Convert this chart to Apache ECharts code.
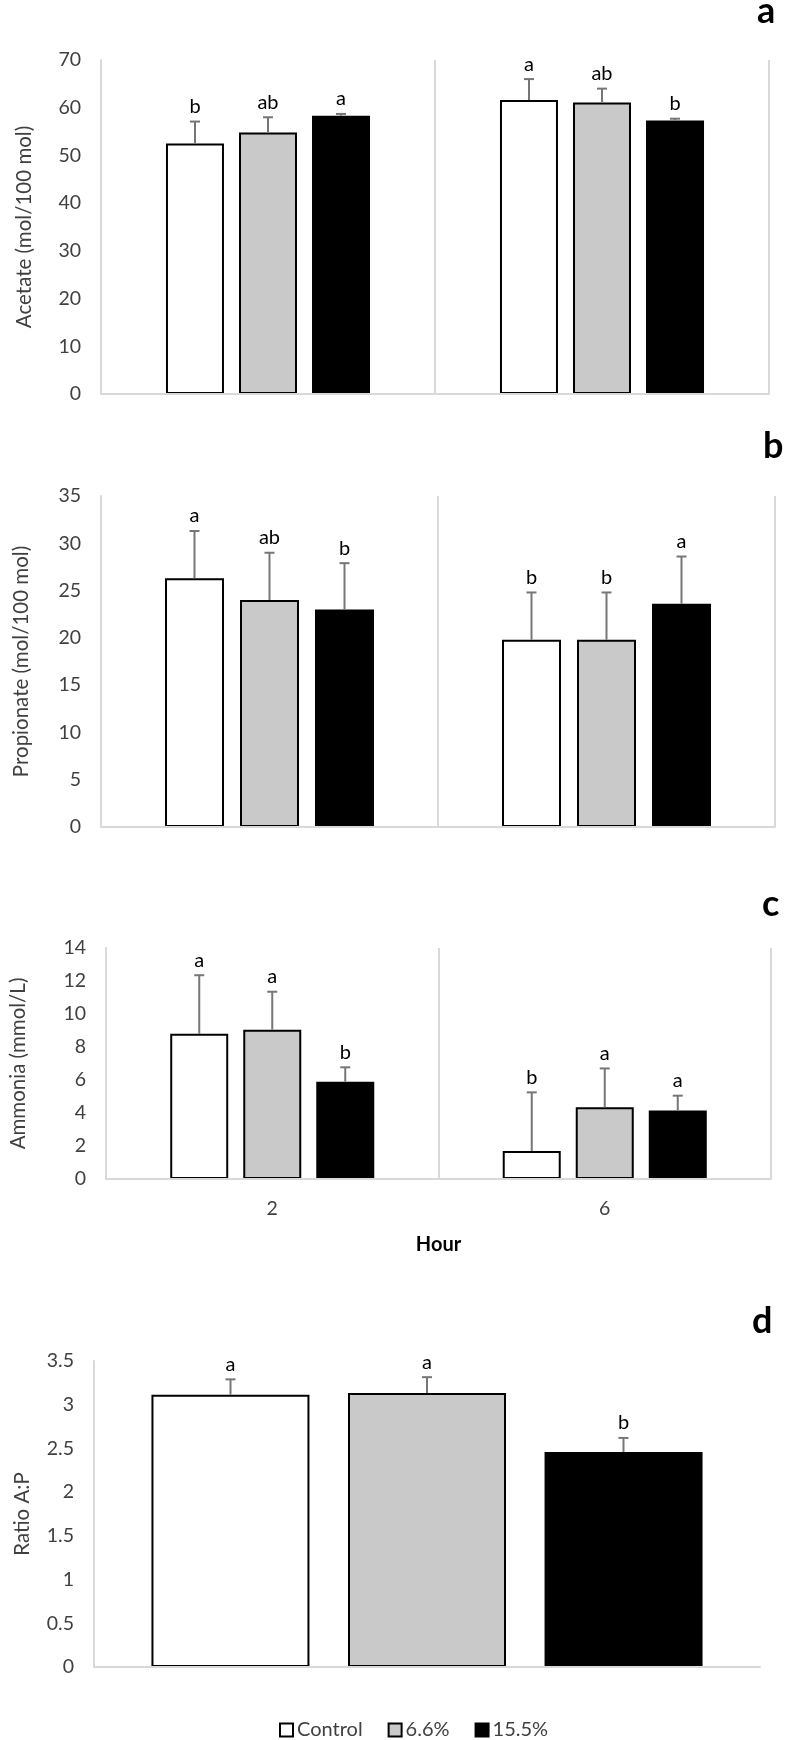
<!DOCTYPE html>
<html>
<head>
<meta charset="utf-8">
<script src="https://cdn.jsdelivr.net/npm/echarts@6/dist/echarts.min.js"></script>
<style>
html,body{margin:0;padding:0;background:#fff;}
#chart{width:785px;height:1740px;}
</style>
</head>
<body>
<div id="chart"></div>
<script>
// ---------- DATA ----------
const hours = ['2', '6'];
const seriesNames = ['Control', '6.6%', '15.5%'];

// Panel a: Acetate (mol/100 mol)
const acetateControl = [52.5, 61.6];
const acetate66 = [54.8, 61.1];
const acetate155 = [58.3, 57.3];
const acetateErrControl = [4.6, 4.4];
const acetateErr66 = [3.2, 2.9];
const acetateErr155 = [0.4, 0.4];
const acetateLetControl = ['b', 'a'];
const acetateLet66 = ['ab', 'ab'];
const acetateLet155 = ['a', 'b'];

// Panel b: Propionate (mol/100 mol)
const propControl = [26.3, 19.8];
const prop66 = [24.0, 19.8];
const prop155 = [23.0, 23.6];
const propErrControl = [5.0, 5.0];
const propErr66 = [5.0, 5.0];
const propErr155 = [4.9, 5.0];
const propLetControl = ['a', 'b'];
const propLet66 = ['ab', 'b'];
const propLet155 = ['b', 'a'];

// Panel c: Ammonia (mmol/L)
const ammControl = [8.8, 1.7];
const amm66 = [9.05, 4.35];
const amm155 = [5.9, 4.15];
const ammErrControl = [3.55, 3.55];
const ammErr66 = [2.3, 2.35];
const ammErr155 = [0.87, 0.9];
const ammLetControl = ['a', 'b'];
const ammLet66 = ['a', 'a'];
const ammLet155 = ['b', 'a'];

// Panel d: Ratio A:P
const ratioCategory = [''];
const ratioControl = [3.115];
const ratio66 = [3.135];
const ratio155 = [2.46];
const ratioErrControl = [0.175];
const ratioErr66 = [0.18];
const ratioErr155 = [0.16];
const ratioLetControl = ['a'];
const ratioLet66 = ['a'];
const ratioLet155 = ['b'];

// y axis ticks
const yAxisA = {min: 0, max: 70, interval: 10};
const yAxisB = {min: 0, max: 35, interval: 5};
const yAxisC = {min: 0, max: 14, interval: 2};
const yAxisD = {min: 0, max: 3.5, interval: 0.5};

// ---------- STYLE ----------
const FONT = 'Lato, "Open Sans", sans-serif';
const TXT = '#404040';
const GRID_LINE = '#d9d9d9';
const fills = ['#ffffff', '#c9c9c9', '#000000'];
const ERR_COLOR = '#767676';

const chart = echarts.init(document.getElementById('chart'), null, {renderer: 'canvas'});

const grids = [
  {left: 101, right: 16, top: 60, height: 334},
  {left: 101, right: 10, top: 496, height: 331},
  {left: 100, right: 14, top: 948, height: 231},
  {left: 94, right: 25, top: 1361, height: 306}
];

const yNames = ['Acetate (mol/100 mol)', 'Propionate (mol/100 mol)', 'Ammonia (mmol/L)', 'Ratio A:P'];
const yRanges = [yAxisA, yAxisB, yAxisC, yAxisD];
const yNameGaps = [66, 69, 77, 61];

const xAxes = [0, 1, 2, 3].map(k => ({
  type: 'category',
  gridIndex: k,
  data: k === 3 ? ratioCategory : hours,
  z: 3,
  axisLine: {show: true, lineStyle: {color: GRID_LINE, width: 2}},
  axisTick: {show: false},
  axisLabel: {show: k === 2, color: TXT, fontSize: 19.5, fontFamily: FONT, margin: 20},
  splitLine: {show: k !== 3, lineStyle: {color: GRID_LINE, width: 2}},
  name: k === 2 ? 'Hour' : '',
  nameLocation: 'middle',
  nameGap: 56,
  nameTextStyle: {color: '#000', fontSize: 20, fontWeight: 'bold', fontFamily: FONT}
}));

const yAxes = [0, 1, 2, 3].map(k => ({
  type: 'value',
  gridIndex: k,
  min: yRanges[k].min,
  max: yRanges[k].max,
  interval: yRanges[k].interval,
  z: 3,
  axisLine: {show: true, lineStyle: {color: GRID_LINE, width: 2}},
  axisTick: {show: false},
  splitLine: {show: false},
  axisLabel: {color: TXT, fontSize: 19.5, fontFamily: FONT, margin: 20},
  name: yNames[k],
  nameLocation: 'middle',
  nameRotate: 90,
  nameGap: yNameGaps[k],
  nameTextStyle: {color: TXT, fontSize: 20.5, fontFamily: FONT}
}));

const panels = [
  {vals: [acetateControl, acetate66, acetate155], errs: [acetateErrControl, acetateErr66, acetateErr155], lets: [acetateLetControl, acetateLet66, acetateLet155]},
  {vals: [propControl, prop66, prop155], errs: [propErrControl, propErr66, propErr155], lets: [propLetControl, propLet66, propLet155]},
  {vals: [ammControl, amm66, amm155], errs: [ammErrControl, ammErr66, ammErr155], lets: [ammLetControl, ammLet66, ammLet155]},
  {vals: [ratioControl, ratio66, ratio155], errs: [ratioErrControl, ratioErr66, ratioErr155], lets: [ratioLetControl, ratioLet66, ratioLet155]}
];

// bar geometry per panel (pixel width and gap)
const barGeom = [
  {w: 58, gap: 15},
  {w: 59, gap: 16},
  {w: 58, gap: 15},
  {w: 158, gap: 38.5}
];

const series = [];
panels.forEach((p, k) => {
  const g = barGeom[k];
  for (let s = 0; s < 3; s++) {
    series.push({
      type: 'bar',
      name: seriesNames[s],
      xAxisIndex: k,
      yAxisIndex: k,
      barWidth: g.w,
      barGap: (g.gap / g.w * 100).toFixed(1) + '%',
      data: p.vals[s],
      itemStyle: {color: fills[s], borderColor: '#000', borderWidth: s === 2 ? 0 : 2},
      silent: true,
      z: 2
    });
  }
  for (let s = 0; s < 3; s++) {
    const offset = (s - 1) * (g.w + g.gap);
    const lets = p.lets[s];
    series.push({
      type: 'custom',
      name: 'err' + k + '_' + s,
      xAxisIndex: k,
      yAxisIndex: k,
      silent: true,
      z: 4,
      data: p.vals[s].map((v, i) => [i, v, v + p.errs[s][i]]),
      renderItem: function (params, api) {
        const base = api.coord([api.value(0), api.value(1)]);
        const top = api.coord([api.value(0), api.value(2)]);
        const x = base[0] + offset;
        return {
          type: 'group',
          children: [
            {type: 'line', shape: {x1: x, y1: base[1], x2: x, y2: top[1]}, style: {stroke: ERR_COLOR, lineWidth: 2}},
            {type: 'line', shape: {x1: x - 5, y1: top[1], x2: x + 5, y2: top[1]}, style: {stroke: ERR_COLOR, lineWidth: 2}},
            {type: 'text', x: x, y: top[1] - 5, style: {text: lets[params.dataIndex], align: 'center', verticalAlign: 'bottom', fontSize: 20, fontFamily: FONT, fill: '#000'}}
          ]
        };
      }
    });
  }
});

const panelLetters = [
  {t: 'a', x: 757, y: 29},
  {t: 'b', x: 763, y: 464},
  {t: 'c', x: 762, y: 922},
  {t: 'd', x: 752, y: 1339}
];

const option = {
  backgroundColor: '#fff',
  animation: false,
  grid: grids,
  xAxis: xAxes,
  yAxis: yAxes,
  legend: {
    data: seriesNames,
    left: 279,
    top: 1720,
    padding: 0,
    itemWidth: 13,
    itemHeight: 13,
    itemGap: 25,
    icon: 'rect',
    textStyle: {color: TXT, fontSize: 20, fontFamily: FONT, padding: [0, 0, 0, -1]},
    selectedMode: false,
    itemStyle: {borderColor: '#000', borderWidth: 2}
  },
  graphic: panelLetters.map(l => ({
    type: 'text',
    x: l.x, y: l.y,
    style: {text: l.t, fontSize: 36, fontWeight: 'bold', fontFamily: FONT, fill: '#000', align: 'left', verticalAlign: 'bottom'}
  })),
  series: series
};

chart.setOption(option);
</script>
</body>
</html>
